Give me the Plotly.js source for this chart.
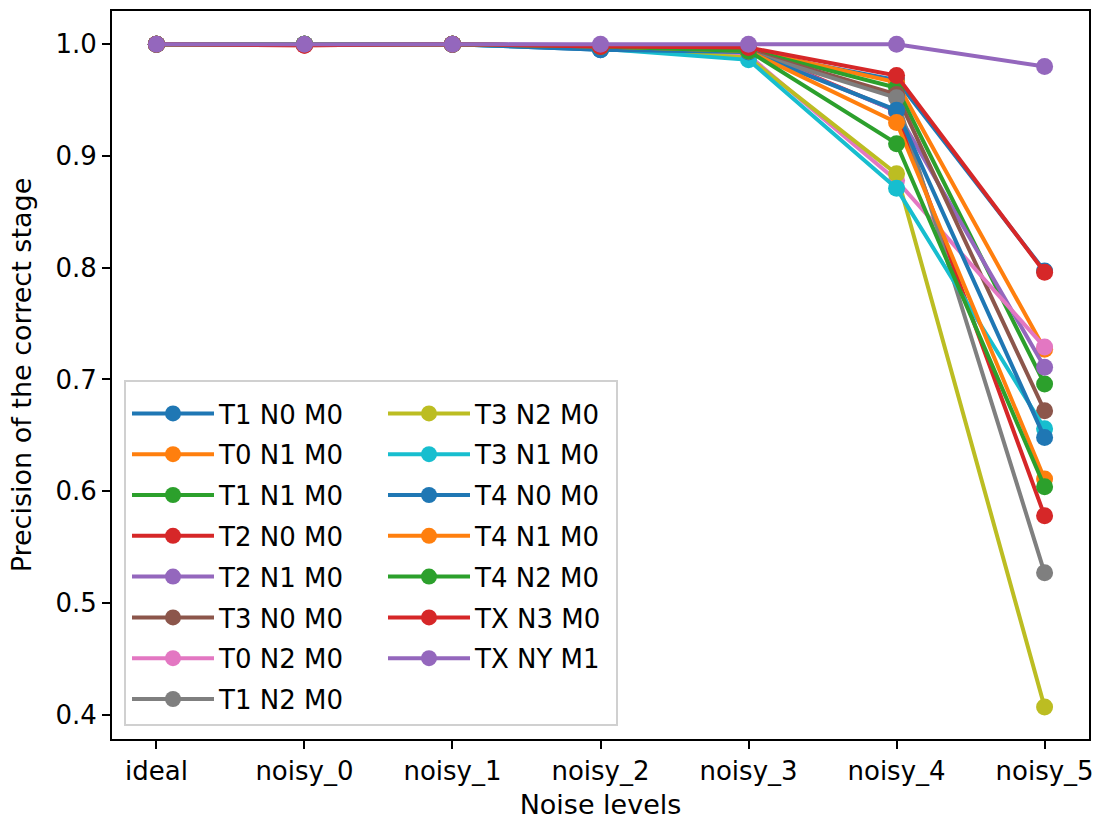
<!DOCTYPE html>
<html>
<head>
<meta charset="utf-8">
<script src="https://cdn.plot.ly/plotly-3.0.1.min.js"></script>
<style>html,body{margin:0;padding:0;background:#fff;}#chart{width:1099px;height:820px;}</style>
</head>
<body>
<div id="chart"></div>
<script>
const categories = ["ideal", "noisy_0", "noisy_1", "noisy_2", "noisy_3", "noisy_4", "noisy_5"];

const seriesNames = ["T1 N0 M0", "T0 N1 M0", "T1 N1 M0", "T2 N0 M0", "T2 N1 M0", "T3 N0 M0", "T0 N2 M0", "T1 N2 M0",
                     "T3 N2 M0", "T3 N1 M0", "T4 N0 M0", "T4 N1 M0", "T4 N2 M0", "TX N3 M0", "TX NY M1"];

const T1_N0_M0 = [1.000, 1.000, 1.000, 0.995, 0.993, 0.968, 0.797];
const T0_N1_M0 = [1.000, 1.000, 1.000, 0.998, 0.995, 0.966, 0.727];
const T1_N1_M0 = [1.000, 1.000, 1.000, 0.998, 0.995, 0.961, 0.696];
const T2_N0_M0 = [1.000, 0.999, 1.000, 0.998, 0.996, 0.940, 0.578];
const T2_N1_M0 = [1.000, 1.000, 1.000, 0.999, 0.995, 0.940, 0.711];
const T3_N0_M0 = [1.000, 1.000, 1.000, 0.998, 0.994, 0.955, 0.672];
const T0_N2_M0 = [1.000, 1.000, 1.000, 0.998, 0.990, 0.878, 0.729];
const T1_N2_M0 = [1.000, 1.000, 1.000, 0.998, 0.993, 0.952, 0.527];
const T3_N2_M0 = [1.000, 1.000, 1.000, 0.997, 0.988, 0.884, 0.407];
const T3_N1_M0 = [1.000, 1.000, 1.000, 0.996, 0.986, 0.871, 0.656];
const T4_N0_M0 = [1.000, 1.000, 1.000, 0.995, 0.993, 0.941, 0.648];
const T4_N1_M0 = [1.000, 1.000, 1.000, 0.998, 0.994, 0.930, 0.611];
const T4_N2_M0 = [1.000, 1.000, 1.000, 0.998, 0.994, 0.911, 0.604];
const TX_N3_M0 = [1.000, 0.999, 1.000, 0.998, 0.997, 0.972, 0.796];
const TX_NY_M1 = [1.000, 1.000, 1.000, 1.000, 1.000, 1.000, 0.980];

const seriesValues = [T1_N0_M0, T0_N1_M0, T1_N1_M0, T2_N0_M0, T2_N1_M0, T3_N0_M0, T0_N2_M0, T1_N2_M0,
                      T3_N2_M0, T3_N1_M0, T4_N0_M0, T4_N1_M0, T4_N2_M0, TX_N3_M0, TX_NY_M1];

const yTicks = [0.4, 0.5, 0.6, 0.7, 0.8, 0.9, 1.0];

const palette = ["#1f77b4", "#ff7f0e", "#2ca02c", "#d62728", "#9467bd", "#8c564b", "#e377c2", "#7f7f7f", "#bcbd22", "#17becf"];

const FONT = "DejaVu Sans, Liberation Sans, sans-serif";

const traces = seriesNames.map((name, i) => ({
  type: "scatter",
  mode: "lines+markers",
  name: name,
  x: categories,
  y: seriesValues[i],
  line: {color: palette[i % 10], width: 4},
  marker: {color: palette[i % 10], size: 17},
  legend: i < 8 ? "legend" : "legend2",
  legendgroup: "g" + i
}));

const L = 112, R = 1089, T = 11, B = 739;
const W = R - L, H = B - T;
const px = v => (v - L) / W;
const py = v => (B - v) / H;

const legendCommon = {
  font: {family: FONT, size: 26, color: "#000"},
  bgcolor: "rgba(0,0,0,0)",
  borderwidth: 0,
  xanchor: "left",
  yanchor: "top",
  traceorder: "grouped",
  tracegroupgap: 4,
  itemwidth: 82
};

const layout = {
  width: 1099,
  height: 820,
  margin: {l: L, r: 1099 - R, t: T, b: 820 - B},
  paper_bgcolor: "#fff",
  plot_bgcolor: "#fff",
  font: {family: FONT, size: 26, color: "#000"},
  showlegend: true,
  xaxis: {
    type: "category",
    range: [-0.3, 6.3],
    showgrid: false,
    zeroline: false,
    showline: true,
    mirror: true,
    linecolor: "#000",
    linewidth: 2,
    ticks: "outside",
    ticklen: 8,
    tickwidth: 2,
    tickcolor: "#000",
    tickfont: {family: FONT, size: 26},
    title: {text: "Noise levels", font: {family: FONT, size: 27}, standoff: 15}
  },
  yaxis: {
    range: [0.3783, 1.0297],
    tickvals: yTicks,
    ticktext: yTicks.map(v => v.toFixed(1)),
    showgrid: false,
    zeroline: false,
    showline: true,
    mirror: true,
    linecolor: "#000",
    linewidth: 2,
    ticks: "outside",
    ticklen: 8,
    tickwidth: 2,
    tickcolor: "#000",
    tickfont: {family: FONT, size: 26},
    title: {text: "Precision of the correct stage", font: {family: FONT, size: 27}, standoff: 16}
  },
  legend: Object.assign({}, legendCommon, {x: px(127), y: py(390)}),
  legend2: Object.assign({}, legendCommon, {x: px(383), y: py(390)}),
  shapes: [{
    type: "rect",
    xref: "paper", yref: "paper",
    x0: px(125), x1: px(617), y0: py(725), y1: py(381),
    line: {color: "#d0d0d0", width: 2},
    fillcolor: "rgba(255,255,255,0.8)",
    layer: "above"
  }]
};

Plotly.newPlot("chart", traces, layout, {displayModeBar: false, staticPlot: true});
</script>
</body>
</html>
